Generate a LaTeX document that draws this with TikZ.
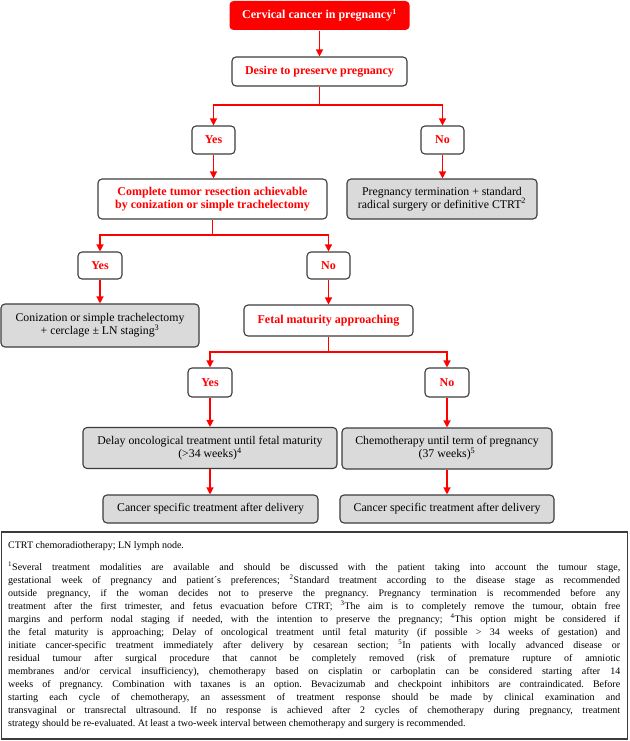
\documentclass[tikz,border=0pt]{standalone}
\usepackage{fontspec}
\setmainfont{Liberation Serif}
\usetikzlibrary{arrows.meta}
\definecolor{cred}{RGB}{255,0,0}
\definecolor{cgray}{RGB}{218,218,218}
\definecolor{cborder}{RGB}{60,60,60}
\begin{document}
\begin{tikzpicture}[x=1pt,y=-1pt,
  box/.style={draw=cborder,line width=1.1pt,rounded corners=4pt,inner sep=0pt,align=center},
  redbox/.style={box,fill=white,text=cred,font=\fontsize{12}{13}\selectfont\bfseries},
  graybox/.style={box,fill=cgray,font=\fontsize{11.8}{13}\selectfont},
  conn/.style={draw=cred,line width=1.3pt,-{Triangle[width=7pt,length=7pt]}},
  seg/.style={draw=cred,line width=1.3pt},
]
\useasboundingbox (0,0) rectangle (629,741);
% top
\node[box,draw=none,fill=cred,text=white,font=\fontsize{12}{13}\selectfont\bfseries,minimum width=180pt,minimum height=29pt] (top) at (319.5,15.5) {Cervical cancer in pregnancy\textsuperscript{1}};
\node[redbox,minimum width=175pt,minimum height=29pt] (desire) at (319.5,71.5) {Desire to preserve pregnancy};
\node[redbox,minimum width=43pt,minimum height=28pt] (yes1) at (213.5,140) {Yes};
\node[redbox,minimum width=43pt,minimum height=28pt] (no1) at (442.5,140) {No};
\node[redbox,minimum width=229pt,minimum height=40pt] (complete) at (212.5,199) {Complete tumor resection achievable\\by conization or simple trachelectomy};
\node[graybox,minimum width=190pt,minimum height=40pt] (term) at (442,199) {Pregnancy termination + standard\\radical surgery or definitive CTRT\textsuperscript{2}};
\node[redbox,minimum width=44pt,minimum height=27pt] (yes2) at (100,265.5) {Yes};
\node[redbox,minimum width=43pt,minimum height=27pt] (no2) at (328.5,265.5) {No};
\node[graybox,minimum width=198pt,minimum height=43pt] (coniz) at (100,325.5) {Conization or simple trachelectomy\\+ cerclage ± LN staging\textsuperscript{3}};
\node[redbox,minimum width=169pt,minimum height=31pt] (fetal) at (328.5,320.5) {Fetal maturity approaching};
\node[redbox,minimum width=44pt,minimum height=29pt] (yes3) at (210,382.5) {Yes};
\node[redbox,minimum width=44pt,minimum height=29pt] (no3) at (447,382.5) {No};
\node[graybox,minimum width=254pt,minimum height=41pt] (delay) at (210,448) {Delay oncological treatment until fetal maturity\\(>34 weeks)\textsuperscript{4}};
\node[graybox,minimum width=210pt,minimum height=41pt] (chemo) at (447,448.5) {Chemotherapy until term of pregnancy\\(37 weeks)\textsuperscript{5}};
\node[graybox,minimum width=215pt,minimum height=28pt] (cs1) at (210.5,509) {Cancer specific treatment after delivery};
\node[graybox,minimum width=214pt,minimum height=28pt] (cs2) at (447,509) {Cancer specific treatment after delivery};
% connectors
\draw[conn] (top.south) -- (top.south |- desire.north);
\coordinate (j1) at (319.5,105);
\draw[seg] (desire.south) -- (j1);
\draw[conn] (j1) -| (yes1.north);
\draw[conn] (j1) -| (no1.north);
\draw[conn] (yes1.south) -- (yes1.south |- complete.north);
\draw[conn] (no1.south) -- (no1.south |- term.north);
\coordinate (j2) at (212.5,235);
\draw[seg] (complete.south) -- (j2);
\draw[conn] (j2) -| (yes2.north);
\draw[conn] (j2) -| (no2.north);
\draw[conn] (yes2.south) -- (yes2.south |- coniz.north);
\draw[conn] (no2.south) -- (no2.south |- fetal.north);
\coordinate (j3) at (328.5,352);
\draw[seg] (fetal.south) -- (j3);
\draw[conn] (j3) -| (yes3.north);
\draw[conn] (j3) -| (no3.north);
\draw[conn] (yes3.south) -- (yes3.south |- delay.north);
\draw[conn] (no3.south) -- (no3.south |- chemo.north);
\draw[conn] (delay.south) -- (delay.south |- cs1.north);
\draw[conn] (chemo.south) -- (chemo.south |- cs2.north);
% notes
\node[draw=cborder,line width=1.1pt,minimum width=626pt,minimum height=207pt,inner sep=0pt] (notesbox) at (314.5,635.5) {};
\node[anchor=north west,inner sep=0pt,text width=612pt,align=justify,font=\fontsize{10}{13}\selectfont\frenchspacing] (notes) at (8,541) {CTRT chemoradiotherapy; LN lymph node.\par\vspace{9pt}
\textsuperscript{1}Several treatment modalities are available and should be discussed with the patient taking into account the tumour stage,\linebreak
gestational week of pregnancy and patient´s preferences; \textsuperscript{2}Standard treatment according to the disease stage as recommended\linebreak
outside pregnancy, if the woman decides not to preserve the pregnancy. Pregnancy termination is recommended before any\linebreak
treatment after the first trimester, and fetus evacuation before CTRT; \textsuperscript{3}The aim is to completely remove the tumour, obtain free\linebreak
margins and perform nodal staging if needed, with the intention to preserve the pregnancy; \textsuperscript{4}This option might be considered if\linebreak
the fetal maturity is approaching; Delay of oncological treatment until fetal maturity (if possible > 34 weeks of gestation) and\linebreak
initiate cancer-specific treatment immediately after delivery by cesarean section; \textsuperscript{5}In patients with locally advanced disease or\linebreak
residual tumour after surgical procedure that cannot be completely removed (risk of premature rupture of amniotic\linebreak
membranes and/or cervical insufficiency), chemotherapy based on cisplatin or carboplatin can be considered starting after 14\linebreak
weeks of pregnancy. Combination with taxanes is an option. Bevacizumab and checkpoint inhibitors are contraindicated. Before\linebreak
starting each cycle of chemotherapy, an assessment of treatment response should be made by clinical examination and\linebreak
transvaginal or transrectal ultrasound. If no response is achieved after 2 cycles of chemotherapy during pregnancy, treatment\linebreak
strategy should be re-evaluated. At least a two-week interval between chemotherapy and surgery is recommended.};
\end{tikzpicture}
\end{document}
